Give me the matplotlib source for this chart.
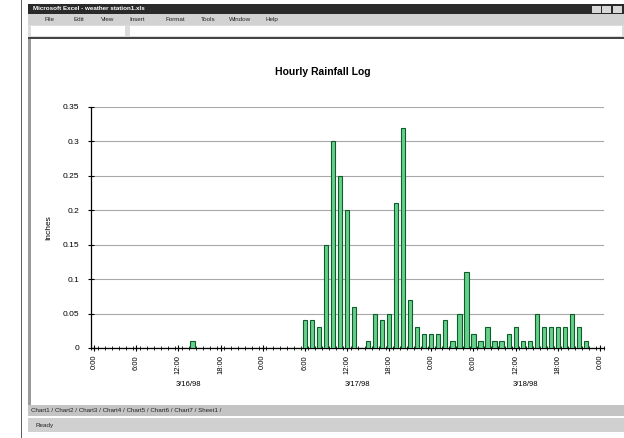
import matplotlib.pyplot as plt
import matplotlib.transforms as mtransforms
from matplotlib.patches import Rectangle

# hourly rainfall, 3/16/98 0:00 .. 3/19/98 0:00 (inches)
rainfall = [0, 0, 0, 0, 0, 0, 0, 0, 0, 0, 0, 0, 0, 0, 0.01, 0, 0, 0, 0, 0, 0, 0, 0, 0,
            0, 0, 0, 0, 0, 0, 0.04, 0.04, 0.03, 0.15, 0.30, 0.25, 0.20, 0.06, 0, 0.01, 0.05, 0.04,
            0.05, 0.21, 0.32, 0.07, 0.03, 0.02, 0.02, 0.02, 0.04, 0.01, 0.05, 0.11, 0.02, 0.01, 0.03, 0.01,
            0.01, 0.02, 0.03, 0.01, 0.01, 0.05, 0.03, 0.03, 0.03, 0.03, 0.05, 0.03, 0.01, 0, 0]
hour_labels = ["0:00", "6:00", "12:00", "18:00", "0:00", "6:00", "12:00", "18:00",
               "0:00", "6:00", "12:00", "18:00", "0:00"]
date_labels = ["3/16/98", "3/17/98", "3/18/98"]
y_ticks = [0, 0.05, 0.1, 0.15, 0.2, 0.25, 0.3, 0.35]
y_tick_labels = ["0", "0.05", "0.1", "0.15", "0.2", "0.25", "0.3", "0.35"]
menu_items = ["File", "Edit", "View", "Insert", "Format", "Tools", "Window", "Help"]
sheet_tabs = "Chart1 / Chart2 / Chart3 / Chart4 / Chart5 / Chart6 / Chart7 / Sheet1 /"

W, H = 624, 438
plt.rcParams['font.family'] = ['Liberation Sans', 'DejaVu Sans']

fig = plt.figure(figsize=(6.24, 4.38), dpi=100)


def box(x0, y0, x1, y1, color):
    # pixel coords from the top-left of the screenshot
    fig.add_artist(Rectangle((x0 / W, 1 - y1 / H), (x1 - x0) / W, (y1 - y0) / H,
                             transform=fig.transFigure, facecolor=color, edgecolor='none'))


def label(x, y, s, **kw):
    fig.text(x / W, 1 - y / H, s, va='center', **kw)


# excel window chrome
box(21, 0, 22, H, '#606060')
box(28, 4, W, 14, '#2a2a2a')
label(33, 9, "Microsoft Excel - weather station1.xls", color='white', fontsize=4.5, weight='bold')
box(592, 6, 601, 12.5, '#d8d8d8')
box(602, 6, 611, 12.5, '#d8d8d8')
box(613, 6, 622, 12.5, '#d8d8d8')
box(28, 14, W, 25, '#d2d2d2')
mx = 45
for m in menu_items:
    label(mx, 19.5, m, fontsize=4.5, color='#222222')
    mx += 28 if len(m) < 6 else 36
box(28, 25, W, 37, '#dcdcdc')
box(31, 26, 125, 36, 'white')
box(130, 26, 622, 36, 'white')
box(28, 37, W, 39, '#444444')
box(28, 39, 31, 405, '#9a9a9a')
box(28, 405, W, 416, '#c4c4c4')
label(31, 410.5, sheet_tabs, fontsize=4.5, color='#222222')
box(28, 418, W, 432, '#d0d0d0')
label(35, 425, "Ready", fontsize=4.5, color='#222222')

# chart
ax = fig.add_axes([90.5 / W, 1 - 348 / H, 513 / W, 241 / H])
x = list(range(len(rainfall)))
ax.bar(x, rainfall, width=0.6, color='#66d08a', edgecolor='#0d5e2c', linewidth=0.8, zorder=3)
ax.set_xlim(-0.5, len(rainfall) - 0.5)
ax.set_ylim(0, 0.35)

ax.set_yticks(y_ticks)
ax.set_yticklabels(y_tick_labels, fontsize=6)
ax.yaxis.grid(True, color='#a8a8a8', linewidth=0.8)
ax.set_axisbelow(True)
ax.tick_params(axis='y', direction='inout', length=4, width=0.8, pad=6)

ax.set_xticks(list(range(0, len(rainfall), 6)))
ax.set_xticklabels(hour_labels, rotation=90, fontsize=5.5)
ax.set_xticks([i - 0.5 for i in range(len(rainfall) + 1)], minor=True)
ax.tick_params(axis='x', which='major', direction='inout', length=4, width=0.8, pad=3)
ax.tick_params(axis='x', which='minor', direction='inout', length=3, width=0.6)

for side in ['top', 'right']:
    ax.spines[side].set_visible(False)
for side in ['left', 'bottom']:
    ax.spines[side].set_linewidth(0.9)

trans = mtransforms.blended_transform_factory(ax.transData, fig.transFigure)
for i, d in enumerate(date_labels):
    ax.text(12 + 24 * i - 0.4, 1 - 385 / H, d, transform=trans, fontsize=5.5, ha='left', va='center')

ax.set_ylabel("Inches", fontsize=6)
ax.yaxis.set_label_coords((52 - 90.5) / 513, 0.5)

label(323, 72, "Hourly Rainfall Log", fontsize=7.5, weight='bold', ha='center')

fig.savefig('out.png', dpi=100)
